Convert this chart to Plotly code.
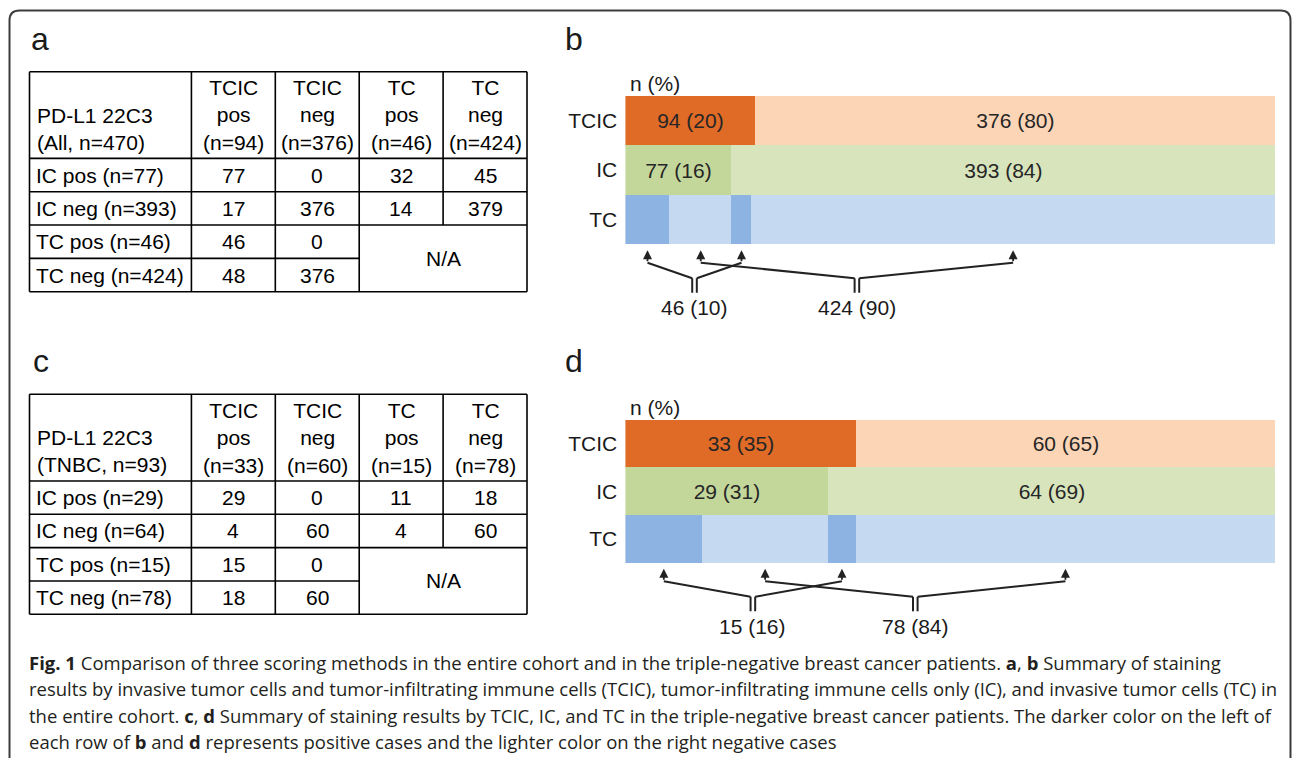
import plotly.graph_objects as go

# ======================= DATA =======================
# Panel a: PD-L1 22C3 (All, n=470)
a_title = ["PD-L1 22C3", "(All, n=470)"]
a_col_method = ["TCIC", "TCIC", "TC", "TC"]
a_col_status = ["pos", "neg", "pos", "neg"]
a_col_n = [94, 376, 46, 424]
a_row_labels = ["IC pos", "IC neg", "TC pos", "TC neg"]
a_row_n = [77, 393, 46, 424]
a_ic_pos = [77, 0, 32, 45]
a_ic_neg = [17, 376, 14, 379]
a_tc_pos = [46, 0]
a_tc_neg = [48, 376]

# Panel c: PD-L1 22C3 (TNBC, n=93)
c_title = ["PD-L1 22C3", "(TNBC, n=93)"]
c_col_method = ["TCIC", "TCIC", "TC", "TC"]
c_col_status = ["pos", "neg", "pos", "neg"]
c_col_n = [33, 60, 15, 78]
c_row_labels = ["IC pos", "IC neg", "TC pos", "TC neg"]
c_row_n = [29, 64, 15, 78]
c_ic_pos = [29, 0, 11, 18]
c_ic_neg = [4, 60, 4, 60]
c_tc_pos = [15, 0]
c_tc_neg = [18, 60]

# Panel b: bars, all patients
b_total = 470
b_tcic = [94, 376]
b_tcic_pct = [20, 80]
b_ic = [77, 393]
b_ic_pct = [16, 84]
b_tc = [32, 45, 14, 379]          # TC pos|IC pos, TC neg|IC pos, TC pos|IC neg, TC neg|IC neg
b_tc_pos = [46, 10]               # n, %
b_tc_neg = [424, 90]

# Panel d: bars, TNBC
d_total = 93
d_tcic = [33, 60]
d_tcic_pct = [35, 65]
d_ic = [29, 64]
d_ic_pct = [31, 69]
d_tc = [11, 18, 4, 60]
d_tc_pos = [15, 16]
d_tc_neg = [78, 84]

row_names = ["TCIC", "IC", "TC"]

caption_lines = [
    "<b>Fig. 1</b> Comparison of three scoring methods in the entire cohort and in the triple-negative breast cancer patients. <b>a</b>, <b>b</b> Summary of staining",
    "results by invasive tumor cells and tumor-infiltrating immune cells (TCIC), tumor-infiltrating immune cells only (IC), and invasive tumor cells (TC) in",
    "the entire cohort. <b>c</b>, <b>d</b> Summary of staining results by TCIC, IC, and TC in the triple-negative breast cancer patients. The darker color on the left of",
    "each row of <b>b</b> and <b>d</b> represents positive cases and the lighter color on the right negative cases",
]

# ======================= STYLE =======================
W, H = 1292, 758
FONT = "Liberation Sans, Arial, sans-serif"
CAP_FONT = "Open Sans, Noto Sans, sans-serif"
TXT = "#1a1a1a"
LINE = "#222222"
COL = {
    "TCIC": ("#E06B27", "#FBD5B6"),
    "IC": ("#C4D79B", "#D8E4BC"),
    "TC": ("#8DB3E2", "#C5D9F1"),
}


def px2x(px):
    return px / W


def px2y(py):
    return 1 - py / H


fig = go.Figure()
shapes = []
annotations = []

# ======================= TABLES =======================
col_w = [1.93, 1, 1, 1, 1]
row_h = [2.6, 1, 1, 1, 1]
xe = [0]
for w in col_w:
    xe.append(xe[-1] + w)
ye = [0]
for h in row_h:
    ye.append(ye[-1] + h)
TW, TH = xe[-1], ye[-1]
tab_left, tab_right, tab_hpx = 29.5, 527.0, 220.0
pad_x = 2.0 / ((tab_right - tab_left) / TW)
pad_y = 2.0 / (tab_hpx / TH)


def add_table(xa, ya, top_px, title, methods, statuses, col_n, row_labels, row_n,
              ic_pos, ic_neg, tc_pos, tc_neg):
    ax_name = "xaxis" + xa[1:]
    ay_name = "yaxis" + ya[1:]
    fig.update_layout(**{
        ax_name: dict(domain=[px2x(tab_left - 2), px2x(tab_right + 2)], range=[-pad_x, TW + pad_x],
                      visible=False, fixedrange=True, anchor=ya),
        ay_name: dict(domain=[px2y(top_px + tab_hpx + 2), px2y(top_px - 2)], range=[TH + pad_y, -pad_y],
                      visible=False, fixedrange=True, anchor=xa),
    })
    # invisible trace so the axes exist
    fig.add_trace(go.Scatter(x=[0], y=[0], mode="markers", marker=dict(opacity=0),
                             xaxis=xa, yaxis=ya, hoverinfo="skip", showlegend=False))
    lw = 1.6
    segs = []
    for i in [0, 1, 2, 3, 5]:
        segs.append((xe[0], ye[i], xe[5], ye[i]))
    segs.append((xe[0], ye[4], xe[3], ye[4]))
    for j in [0, 1, 2, 3, 5]:
        segs.append((xe[j], ye[0], xe[j], ye[5]))
    segs.append((xe[4], ye[0], xe[4], ye[3]))
    for (x0, y0, x1, y1) in segs:
        shapes.append(dict(type="line", xref=xa, yref=ya, x0=x0, y0=y0, x1=x1, y1=y1,
                           line=dict(color="#000000", width=lw)))
    fnt = dict(family=FONT, size=21, color="#000000")
    # header
    annotations.append(dict(xref=xa, yref=ya, x=0, y=ye[1] / 2 + 0.41, xanchor="left", yanchor="middle",
                            xshift=5, align="left", showarrow=False, font=fnt,
                            text="<br>".join(title)))
    for j in range(4):
        annotations.append(dict(xref=xa, yref=ya, x=(xe[j + 1] + xe[j + 2]) / 2, y=ye[1] / 2,
                                xanchor="center", yanchor="middle", showarrow=False, font=fnt,
                                text=f"{methods[j]}<br>{statuses[j]}<br>(n={col_n[j]})"))
    rows_vals = [ic_pos, ic_neg, tc_pos, tc_neg]
    for i in range(4):
        yc = (ye[i + 1] + ye[i + 2]) / 2
        annotations.append(dict(xref=xa, yref=ya, x=0, y=yc, xanchor="left", yanchor="middle",
                                xshift=4, showarrow=False, font=fnt,
                                text=f"{row_labels[i]} (n={row_n[i]})"))
        for j, v in enumerate(rows_vals[i]):
            annotations.append(dict(xref=xa, yref=ya, x=(xe[j + 1] + xe[j + 2]) / 2, y=yc,
                                    xanchor="center", yanchor="middle", showarrow=False, font=fnt,
                                    text=str(v)))
    annotations.append(dict(xref=xa, yref=ya, x=(xe[3] + xe[5]) / 2, y=(ye[3] + ye[5]) / 2,
                            xanchor="center", yanchor="middle", showarrow=False, font=fnt, text="N/A"))


add_table("x", "y", 71.7, a_title, a_col_method, a_col_status, a_col_n, a_row_labels, a_row_n,
          a_ic_pos, a_ic_neg, a_tc_pos, a_tc_neg)
add_table("x2", "y2", 394.3, c_title, c_col_method, c_col_status, c_col_n, c_row_labels, c_row_n,
          c_ic_pos, c_ic_neg, c_tc_pos, c_tc_neg)

# ======================= BAR PANELS =======================
bar_left, bar_right = 625.4, 1275.0
Y_LO, Y_HI = -2.1, 3.0
# bracket offsets below bar bottom, in px
OFF_TIP, OFF_TAIL, OFF_JUNC, OFF_STEM, OFF_TEXT = 6.0, 18.5, 34.0, 48.5, 63.5
STEM_GAP_PX = 2.3


def add_bars(xa, ya, bar_top_px, row_px, total, tcic, tcic_pct, ic, ic_pct, tc, tc_pos, tc_neg):
    ax_name = "xaxis" + xa[1:]
    ay_name = "yaxis" + ya[1:]
    top_px = bar_top_px - (Y_HI - 2.5) * row_px
    bot_px = bar_top_px + (2.5 - Y_LO) * row_px
    fig.update_layout(**{
        ax_name: dict(domain=[px2x(bar_left), px2x(bar_right)], range=[0, total], visible=False,
                      fixedrange=True, anchor=ya),
        ay_name: dict(domain=[px2y(bot_px), px2y(top_px)], range=[Y_LO, Y_HI], fixedrange=True,
                      anchor=xa, showgrid=False, zeroline=False, showline=False,
                      tickmode="array", tickvals=[2, 1, 0], ticktext=row_names,
                      ticks="outside", ticklen=3, tickcolor="rgba(0,0,0,0)",
                      tickfont=dict(family=FONT, size=21, color=TXT)),
    })
    rows = [
        (2, tcic, [COL["TCIC"][0], COL["TCIC"][1]], [f"{v} ({p})" for v, p in zip(tcic, tcic_pct)]),
        (1, ic, [COL["IC"][0], COL["IC"][1]], [f"{v} ({p})" for v, p in zip(ic, ic_pct)]),
        (0, tc, [COL["TC"][0], COL["TC"][1], COL["TC"][0], COL["TC"][1]], ["", "", "", ""]),
    ]
    for yv, vals, cols, labels in rows:
        start = 0
        for v, c, lab in zip(vals, cols, labels):
            fig.add_trace(go.Bar(
                x=[v], y=[yv], base=[start], orientation="h", width=[1],
                marker=dict(color=c, line=dict(width=0)),
                text=[lab], textposition="inside", insidetextanchor="middle", textangle=0,
                textfont=dict(family=FONT, size=21, color="#262626"),
                constraintext="none", cliponaxis=False,
                xaxis=xa, yaxis=ya, hoverinfo="skip", showlegend=False))
            start += v
    # "n (%)"
    annotations.append(dict(xref=xa, yref=ya, x=0, y=2.5 + 13.0 / row_px, xanchor="left",
                            yanchor="middle", xshift=3, showarrow=False,
                            font=dict(family=FONT, size=21, color=TXT), text="n (%)"))
    # brackets for TC row
    starts = [sum(tc[:k]) for k in range(len(tc))]
    centers = [s + v / 2 for s, v in zip(starts, tc)]

    def yoff(off):
        return -0.5 - off / row_px

    gap = STEM_GAP_PX * total / (bar_right - bar_left)
    y_tip, y_tail, y_junc, y_stem, y_text = (yoff(OFF_TIP), yoff(OFF_TAIL), yoff(OFF_JUNC),
                                             yoff(OFF_STEM), yoff(OFF_TEXT))
    lstyle = dict(color=LINE, width=2)
    for (i0, i1), lab in [((0, 2), tc_pos), ((1, 3), tc_neg)]:
        xa0, xa1 = centers[i0], centers[i1]
        jx = (xa0 + xa1) / 2
        for xc in (xa0, xa1):
            annotations.append(dict(xref=xa, yref=ya, axref=xa, ayref=ya, x=xc, y=y_tip, ax=xc, ay=y_tail,
                                    showarrow=True, arrowhead=2, arrowsize=1, arrowwidth=1.8,
                                    arrowcolor=LINE, text=""))
        shapes.append(dict(type="line", xref=xa, yref=ya, x0=xa0, y0=y_tail, x1=jx - gap, y1=y_junc,
                           line=lstyle))
        shapes.append(dict(type="line", xref=xa, yref=ya, x0=xa1, y0=y_tail, x1=jx + gap, y1=y_junc,
                           line=lstyle))
        for s in (-gap, gap):
            shapes.append(dict(type="line", xref=xa, yref=ya, x0=jx + s, y0=y_junc, x1=jx + s, y1=y_stem,
                               line=lstyle))
        annotations.append(dict(xref=xa, yref=ya, x=jx, y=y_text, xanchor="center", yanchor="middle",
                                showarrow=False, font=dict(family=FONT, size=21, color=TXT),
                                text=f"{lab[0]} ({lab[1]})"))


add_bars("x3", "y3", 96.0, 49.4, b_total, b_tcic, b_tcic_pct, b_ic, b_ic_pct, b_tc, b_tc_pos, b_tc_neg)
add_bars("x4", "y4", 420.0, 47.6, d_total, d_tcic, d_tcic_pct, d_ic, d_ic_pct, d_tc, d_tc_pos, d_tc_neg)

# ======================= PANEL LETTERS =======================
for letter, xp, yp in [("a", 29, 39), ("b", 563, 39), ("c", 31, 361), ("d", 563, 361)]:
    annotations.append(dict(xref="paper", yref="paper", x=px2x(xp), y=px2y(yp), xanchor="left",
                            yanchor="middle", showarrow=False,
                            font=dict(family=FONT, size=32, color=TXT), text=letter))

# ======================= CAPTION =======================
for k, (line, yp) in enumerate(zip(caption_lines, [662, 688.5, 715, 741])):
    annotations.append(dict(xref="paper", yref="paper", x=px2x(27), y=px2y(yp), xanchor="left",
                            yanchor="middle", showarrow=False, align="left",
                            font=dict(family=CAP_FONT, size=18.5, color="#231f20"), text=line))

# ======================= FRAME =======================
r = 10
fx0, fy0, fx1, fy1 = 9.5, 10.5, 1290.5, 758
path = (f"M {px2x(fx0)},{px2y(fy1)} L {px2x(fx0)},{px2y(fy0 + r)} "
        f"Q {px2x(fx0)},{px2y(fy0)} {px2x(fx0 + r)},{px2y(fy0)} "
        f"L {px2x(fx1 - r)},{px2y(fy0)} Q {px2x(fx1)},{px2y(fy0)} {px2x(fx1)},{px2y(fy0 + r)} "
        f"L {px2x(fx1)},{px2y(fy1)}")
shapes.append(dict(type="path", xref="paper", yref="paper", path=path,
                   line=dict(color="#3c3c3c", width=2)))

fig.update_layout(
    width=W, height=H, autosize=False,
    margin=dict(l=0, r=0, t=0, b=0),
    paper_bgcolor="white", plot_bgcolor="rgba(0,0,0,0)",
    barmode="overlay", bargap=0,
    showlegend=False, hovermode=False,
    shapes=shapes, annotations=annotations,
    font=dict(family=FONT, color=TXT),
)

fig.write_html("out.html", config={"displayModeBar": False},
               post_script="document.body.style.margin='0';")
